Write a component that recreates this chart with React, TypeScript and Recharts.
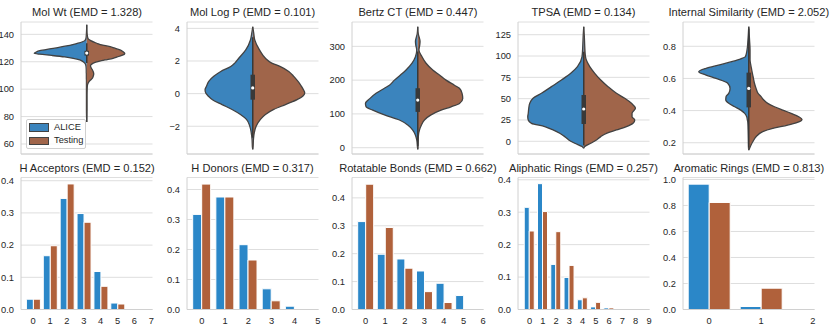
import React from 'react';
import {
  ComposedChart,
  BarChart,
  Area,
  Bar,
  XAxis,
  YAxis,
  CartesianGrid,
  ReferenceLine,
  ReferenceDot,
} from 'recharts';

// ---------- Violin data (value axis samples, half-widths of each side, arbitrary density units) ----------
const molWtY = [147, 141, 137, 135.4, 133.5, 132.5, 131.5, 130.3, 129.5, 128.1, 126.9, 126.2, 125.5, 124.6, 123.5, 122.5, 121.3, 120.5, 119, 117, 115.5, 114, 112.5, 111, 109.5, 108, 106.5, 105, 103, 100, 95, 85, 76];
const molWtAlice = [0, 0.3, 0.8, 2, 8.7, 14, 20.3, 29, 35.5, 47, 51, 52.5, 47, 35, 22, 13.5, 7, 4.5, 2, 0.8, 0.6, 0.5, 0.5, 0.4, 0.4, 0.4, 0.3, 0.3, 0.3, 0.3, 0.3, 0.3, 0];
const molWtTesting = [0, 0.3, 1.2, 4, 10, 13.5, 20, 26.3, 29.5, 34.7, 37, 38, 37.6, 35, 30.5, 26.3, 18, 13, 6.5, 3.7, 4.5, 5.7, 6.6, 7, 6.5, 5.7, 3.5, 1.8, 0.7, 0.4, 0.3, 0.3, 0];
const molWtBox = [124.5, 126.3, 128];
const molWtWhisker = [119, 133.5];

const logPY = [4.1, 3.7, 3.29, 2.68, 2.17, 1.87, 1.66, 1.36, 1.06, 0.75, 0.45, 0.24, 0.04, -0.16, -0.37, -0.67, -0.97, -1.28, -1.58, -1.99, -2.4, -2.8, -3.3, -3.42];
const logPAlice = [0, 1, 2.3, 7, 14, 18, 22, 32, 39, 44, 46.3, 47.7, 47, 44.3, 40.3, 30.7, 20.7, 12.3, 6.3, 3, 1.5, 0.7, 0.3, 0];
const logPTesting = [0, 1, 2, 6.7, 12.7, 19, 27.7, 36, 41, 45.3, 48.7, 50.7, 52, 50, 44.3, 32.7, 21, 12.7, 7.7, 3.5, 1.5, 0.7, 0.3, 0];
const logPBox = [-0.37, 0.35, 1.16];
const logPWhisker = [-2.7, 3.45];

const bertzY = [358, 338, 314, 304, 289, 269, 250, 230, 215, 200, 185, 176, 161, 146, 131, 121, 111, 97, 82, 67, 52, 37, 23, 3, -5];
const bertzAlice = [0, 0.5, 2.3, 2, 1, 2.3, 5.7, 11.7, 17.3, 23.3, 28.3, 33.3, 41.7, 47.7, 52.3, 51.7, 45, 33.3, 18.3, 10, 5, 2.3, 1, 0.3, 0];
const bertzTesting = [0, 0.5, 2.3, 2, 1.2, 4.3, 8.3, 15, 21.7, 28.3, 36.7, 41.7, 44.3, 45, 41.7, 33.3, 23.3, 13.3, 6.7, 3.7, 1.7, 0.7, 0.5, 0.3, 0];
const bertzBox = [106, 141, 176];
const bertzWhisker = [5, 285];

const tpsaY = [134.4, 122.7, 111, 99.2, 87.5, 79.7, 71.9, 64.1, 56.3, 50.4, 44.5, 38.7, 32.8, 28.9, 25, 21.1, 17.2, 13.3, 9.4, 5.5, 1.6, -2.3, -6.2, -8.2];
const tpsaAlice = [0, 0.6, 1, 1.7, 6.3, 13, 22.3, 32.3, 42.3, 50.7, 54, 55, 55.5, 56, 55.5, 52.3, 39, 30.7, 24, 19, 15, 9, 1.7, 0];
const tpsaTesting = [0, 0.6, 1, 1.7, 6, 11, 17, 24.3, 32.7, 41, 47.7, 51.7, 48.3, 48.3, 51, 49.3, 42.7, 32.7, 22.7, 17, 12.7, 7, 1, 0];
const tpsaBox = [20.3, 37.9, 54.3];
const tpsaWhisker = [-5, 105];

const simY = [0.922, 0.839, 0.777, 0.736, 0.715, 0.684, 0.663, 0.642, 0.621, 0.6, 0.57, 0.538, 0.507, 0.487, 0.466, 0.445, 0.424, 0.403, 0.383, 0.362, 0.345, 0.331, 0.31, 0.289, 0.269, 0.237, 0.206, 0.175, 0.154];
const simAlice = [0, 0.8, 1.7, 3.3, 11, 29.3, 42.7, 50, 42.7, 32.7, 21, 18.7, 20, 22.7, 23, 20, 14, 8, 4, 2, 1.5, 1, 0.8, 0.7, 0.6, 0.5, 0.4, 0.3, 0];
const simTesting = [0, 0.8, 1.3, 1.3, 1.3, 2, 2.7, 3.3, 4, 4.7, 5.7, 7.3, 9.3, 12.3, 15, 19, 25.7, 34, 42.3, 50, 53.3, 50.7, 39, 24, 14, 7.3, 4, 1.5, 0];
const simBox = [0.42, 0.538, 0.636];
const simWhisker = [0.17, 0.91];

// ---------- Bar data (fractions per count) ----------
const hAccCats = [0, 1, 2, 3, 4, 5, 6, 7];
const hAccAlice = [0.032, 0.167, 0.345, 0.298, 0.118, 0.02, 0, 0];
const hAccTesting = [0.032, 0.198, 0.39, 0.271, 0.072, 0.017, 0, 0];

const hDonCats = [0, 1, 2, 3, 4, 5];
const hDonAlice = [0.317, 0.375, 0.216, 0.069, 0.011, 0];
const hDonTesting = [0.418, 0.375, 0.165, 0.029, 0, 0];

const rotCats = [0, 1, 2, 3, 4, 5, 6];
const rotAlice = [0.315, 0.198, 0.181, 0.138, 0.094, 0.05, 0];
const rotTesting = [0.449, 0.294, 0.148, 0.064, 0.025, 0.001, 0];

const aliCats = [0, 1, 2, 3, 4, 5, 6, 7, 8, 9];
const aliAlice = [0.315, 0.388, 0.139, 0.099, 0.03, 0.008, 0.005, 0, 0, 0];
const aliTesting = [0.242, 0.302, 0.24, 0.136, 0.036, 0.022, 0.005, 0, 0, 0];

const aroCats = [0, 1, 2];
const aroAlice = [0.964, 0.023, 0];
const aroTesting = [0.823, 0.164, 0];

// ---------- Styles ----------
const FONT = '"Liberation Sans", Arial, Helvetica, sans-serif';
const TEXT = '#262626';
const GRID = '#dedede';
const SPINE = '#d0d0d0';
const VBLUE = '#3b84bd';
const VBROWN = '#a0654a';
const BBLUE = '#2b87c8';
const BBROWN = '#b0613b';
const EDGE = '#424242';
const BOXC = '#393939';

const PANEL_LEFT = [21.3, 186.8, 352.2, 517.7, 683.1];
const PANEL_W = 131.5;
const HALF = PANEL_W / 2;
const AXIS_W = 40;
const RIGHT_PAD = 10;
const TICK_STYLE = { fill: TEXT, fontSize: 9.3, fontFamily: FONT };

function Title({ idx, top, text }: { idx: number; top: number; text: string }) {
  return (
    <div
      style={{
        position: 'absolute',
        left: PANEL_LEFT[idx] + PANEL_W / 2,
        top,
        transform: 'translateX(-50%)',
        whiteSpace: 'nowrap',
        fontSize: 11.1,
        lineHeight: 1,
        color: TEXT,
        fontFamily: FONT,
      }}
    >
      {text}
    </div>
  );
}

function Violin(props: {
  idx: number;
  title: string;
  ys: number[];
  alice: number[];
  testing: number[];
  domain: [number, number];
  ticks: number[];
  fmt: (v: number) => string;
  box: number[];
  whisker: number[];
}) {
  const { idx, title, ys, alice, testing, domain, ticks, fmt, box, whisker } = props;
  const rows = ys.map((y, i) => ({ y, alice: -alice[i], testing: testing[i] }));
  return (
    <>
      <Title idx={idx} top={7.3} text={title} />
      <div style={{ position: 'absolute', left: PANEL_LEFT[idx] - AXIS_W, top: 0 }}>
        <ComposedChart
          layout="vertical"
          width={AXIS_W + PANEL_W + RIGHT_PAD}
          height={155}
          data={rows}
          margin={{ top: 22, right: RIGHT_PAD, bottom: 0, left: 0 }}
        >
          <CartesianGrid vertical={false} stroke={GRID} />
          <XAxis
            type="number"
            domain={[-HALF, HALF]}
            allowDataOverflow
            tick={false}
            tickLine={false}
            axisLine={{ stroke: SPINE }}
            height={1}
          />
          <YAxis
            type="number"
            dataKey="y"
            domain={domain}
            ticks={ticks}
            interval={0}
            reversed
            allowDataOverflow
            width={AXIS_W}
            tickLine={false}
            tickSize={4}
            tickMargin={3}
            axisLine={{ stroke: SPINE }}
            tick={TICK_STYLE}
            tickFormatter={fmt}
          />
          <Area
            dataKey="alice"
            type="monotone"
            fill={VBLUE}
            fillOpacity={1}
            stroke={EDGE}
            strokeWidth={1.3}
            dot={false}
            activeDot={false}
            isAnimationActive={false}
          />
          <Area
            dataKey="testing"
            type="monotone"
            fill={VBROWN}
            fillOpacity={1}
            stroke={EDGE}
            strokeWidth={1.3}
            dot={false}
            activeDot={false}
            isAnimationActive={false}
          />
          <ReferenceLine
            segment={[
              { x: 0, y: whisker[0] },
              { x: 0, y: whisker[1] },
            ]}
            stroke={BOXC}
            strokeWidth={1.5}
          />
          <ReferenceLine
            segment={[
              { x: 0, y: box[0] },
              { x: 0, y: box[2] },
            ]}
            stroke={BOXC}
            strokeWidth={4.5}
          />
          <ReferenceDot x={0} y={box[1]} r={1.6} fill="#ffffff" stroke="none" />
        </ComposedChart>
      </div>
    </>
  );
}

function Bars(props: {
  idx: number;
  title: string;
  cats: number[];
  alice: number[];
  testing: number[];
  xDomain: [number, number];
  yMax: number;
  yTicks: number[];
}) {
  const { idx, title, cats, alice, testing, xDomain, yMax, yTicks } = props;
  const rows = cats.map((x, i) => ({ x, alice: alice[i], testing: testing[i] }));
  return (
    <>
      <Title idx={idx} top={162.6} text={title} />
      <div style={{ position: 'absolute', left: PANEL_LEFT[idx] - AXIS_W, top: 155 }}>
        <BarChart
          width={AXIS_W + PANEL_W + RIGHT_PAD}
          height={175}
          data={rows}
          margin={{ top: 22.5, right: RIGHT_PAD, bottom: 0, left: 0 }}
          barGap={0}
          barCategoryGap="10%"
        >
          <CartesianGrid vertical={false} stroke={GRID} />
          <XAxis
            type="number"
            dataKey="x"
            domain={xDomain}
            ticks={cats}
            interval={0}
            allowDataOverflow
            height={20.5}
            tickLine={false}
            tickSize={6}
            tickMargin={2}
            axisLine={{ stroke: SPINE }}
            tick={TICK_STYLE}
          />
          <YAxis
            type="number"
            domain={[0, yMax]}
            ticks={yTicks}
            interval={0}
            allowDataOverflow
            width={AXIS_W}
            tickLine={false}
            tickSize={4}
            tickMargin={3}
            axisLine={{ stroke: SPINE }}
            tick={TICK_STYLE}
            tickFormatter={(v: number) => v.toFixed(1)}
          />
          <Bar dataKey="alice" fill={BBLUE} stroke="#ffffff" strokeWidth={1} isAnimationActive={false} />
          <Bar dataKey="testing" fill={BBROWN} stroke="#ffffff" strokeWidth={1} isAnimationActive={false} />
        </BarChart>
      </div>
    </>
  );
}

const intFmt = (v: number) => (v < 0 ? '\u2212' + Math.abs(v) : String(v));
const oneFmt = (v: number) => v.toFixed(1);

export default function App() {
  return (
    <div
      style={{
        position: 'absolute',
        left: 0,
        top: 0,
        width: 830,
        height: 330,
        background: '#ffffff',
        overflow: 'hidden',
        fontFamily: FONT,
      }}
    >
      <Violin idx={0} title="Mol Wt (EMD = 1.328)" ys={molWtY} alice={molWtAlice} testing={molWtTesting}
        domain={[52.7, 149]} ticks={[60, 80, 100, 120, 140]} fmt={intFmt} box={molWtBox} whisker={molWtWhisker} />
      <Violin idx={1} title="Mol Log P (EMD = 0.101)" ys={logPY} alice={logPAlice} testing={logPTesting}
        domain={[-3.7, 4.39]} ticks={[-2, 0, 2, 4]} fmt={intFmt} box={logPBox} whisker={logPWhisker} />
      <Violin idx={2} title="Bertz CT (EMD = 0.447)" ys={bertzY} alice={bertzAlice} testing={bertzTesting}
        domain={[-18.6, 372]} ticks={[0, 100, 200, 300]} fmt={intFmt} box={bertzBox} whisker={bertzWhisker} />
      <Violin idx={3} title="TPSA (EMD = 0.134)" ys={tpsaY} alice={tpsaAlice} testing={tpsaTesting}
        domain={[-14.9, 139.9]} ticks={[0, 25, 50, 75, 100, 125]} fmt={intFmt} box={tpsaBox} whisker={tpsaWhisker} />
      <Violin idx={4} title="Internal Similarity (EMD = 2.052)" ys={simY} alice={simAlice} testing={simTesting}
        domain={[0.13, 0.951]} ticks={[0.2, 0.4, 0.6, 0.8]} fmt={oneFmt} box={simBox} whisker={simWhisker} />

      <Bars idx={0} title="H Acceptors (EMD = 0.152)" cats={hAccCats} alice={hAccAlice} testing={hAccTesting}
        xDomain={[-0.72, 7.07]} yMax={0.41} yTicks={[0, 0.1, 0.2, 0.3, 0.4]} />
      <Bars idx={1} title="H Donors (EMD = 0.317)" cats={hDonCats} alice={hDonAlice} testing={hDonTesting}
        xDomain={[-0.645, 5.03]} yMax={0.44} yTicks={[0, 0.1, 0.2, 0.3, 0.4]} />
      <Bars idx={2} title="Rotatable Bonds (EMD = 0.662)" cats={rotCats} alice={rotAlice} testing={rotTesting}
        xDomain={[-0.69, 6.02]} yMax={0.473} yTicks={[0, 0.1, 0.2, 0.3, 0.4]} />
      <Bars idx={3} title="Aliphatic Rings (EMD = 0.257)" cats={aliCats} alice={aliAlice} testing={aliTesting}
        xDomain={[-0.87, 9.04]} yMax={0.407} yTicks={[0, 0.1, 0.2, 0.3, 0.4]} />
      <Bars idx={4} title="Aromatic Rings (EMD = 0.813)" cats={aroCats} alice={aroAlice} testing={aroTesting}
        xDomain={[-0.5, 2.03]} yMax={1.015} yTicks={[0, 0.2, 0.4, 0.6, 0.8, 1.0]} />

      {/* Legend */}
      <div style={{ position: 'absolute', left: 25.7, top: 119.3, width: 60, height: 29.7, boxSizing: 'border-box', border: '1px solid #d0d0d0', borderRadius: 2, background: 'rgba(255,255,255,0.8)' }} />
      <div style={{ position: 'absolute', left: 29.3, top: 123.3, width: 20, height: 8.4, boxSizing: 'border-box', border: `1px solid ${EDGE}`, background: VBLUE }} />
      <div style={{ position: 'absolute', left: 29.3, top: 136.7, width: 20, height: 8.4, boxSizing: 'border-box', border: `1px solid ${EDGE}`, background: VBROWN }} />
      <div style={{ position: 'absolute', left: 54, top: 123, fontSize: 9.3, lineHeight: 1, color: TEXT, whiteSpace: 'nowrap' }}>ALICE</div>
      <div style={{ position: 'absolute', left: 54, top: 136.3, fontSize: 9.3, lineHeight: 1, color: TEXT, whiteSpace: 'nowrap' }}>Testing</div>
    </div>
  );
}
